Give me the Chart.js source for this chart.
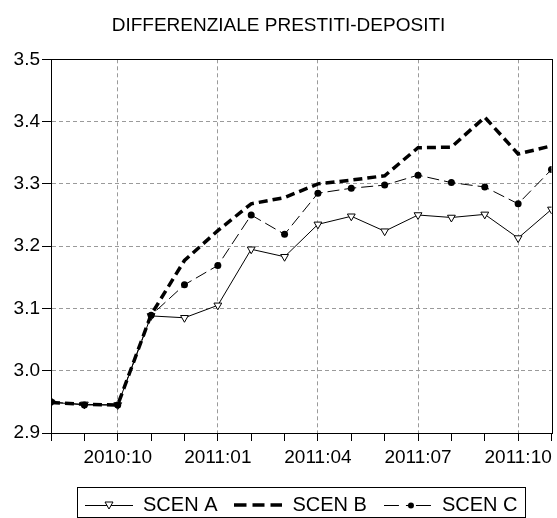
<!DOCTYPE html>
<html>
<head>
<meta charset="utf-8">
<script src="https://cdn.jsdelivr.net/npm/chart.js@4"></script>
<style>
  html, body { margin: 0; padding: 0; background: #fff; }
  #wrap { width: 557px; height: 518px; }
</style>
</head>
<body>
<div id="wrap"><canvas id="grafico"></canvas></div>
<script>
const meses = ["2010:08", "2010:09", "2010:10", "2010:11", "2010:12", "2011:01", "2011:02", "2011:03",
               "2011:04", "2011:05", "2011:06", "2011:07", "2011:08", "2011:09", "2011:10", "2011:11"];
const etiquetasX = ["2010:10", "2011:01", "2011:04", "2011:07", "2011:10"];
const scenA = [2.949, 2.946, 2.945, 3.088, 3.085, 3.105, 3.195, 3.183, 3.235, 3.248, 3.224, 3.250, 3.246, 3.251, 3.213, 3.259];
const scenB = [2.949, 2.946, 2.945, 3.090, 3.177, 3.225, 3.268, 3.278, 3.300, 3.306, 3.313, 3.358, 3.359, 3.407, 3.348, 3.361];
const scenC = [2.950, 2.945, 2.945, 3.089, 3.138, 3.169, 3.250, 3.219, 3.285, 3.293, 3.298, 3.314, 3.302, 3.295, 3.268, 3.323];
const yMin = 2.9, yMax = 3.5, yPaso = 0.1;

const fuente = "'Liberation Sans', Arial, sans-serif";

// muestras de la leyenda: linea + marcador
function muestraLeyenda(tipo) {
    const c = document.createElement("canvas");
    c.width = 48; c.height = 12;
    const g = c.getContext("2d");
    g.strokeStyle = "#000";
    g.beginPath();
    if (tipo === "A") {
        g.lineWidth = 1;
        g.moveTo(0, 6.5); g.lineTo(48, 6.5); g.stroke();
        g.beginPath();
        g.moveTo(20, 3); g.lineTo(28, 3); g.lineTo(24, 10); g.closePath();
        g.fillStyle = "#fff"; g.fill(); g.stroke();
    } else if (tipo === "B") {
        g.lineWidth = 3.5;
        g.setLineDash([12, 6]);
        g.moveTo(0, 6); g.lineTo(48, 6); g.stroke();
    } else {
        g.lineWidth = 1;
        g.setLineDash([15, 7, 7, 3]);
        g.moveTo(0, 6.5); g.lineTo(48, 6.5); g.stroke();
        g.beginPath();
        g.arc(27, 6.5, 3, 0, Math.PI * 2);
        g.fillStyle = "#000"; g.fill();
    }
    return c;
}

// centra la leyenda bajo el area del grafico y la baja un poco
const moverLeyenda = {
    id: "moverLeyenda",
    afterLayout(chart) {
        const { legend, chartArea: a } = chart;
        const dx = (a.left + a.right) / 2 - (legend.left + legend.right) / 2;
        const dy = 7;
        legend.left += dx; legend.right += dx;
        legend.top += dy; legend.bottom += dy;
    }
};

const marcoGrafico = {
    id: "marcoGrafico",
    afterDraw(chart) {
        const { ctx, chartArea: a, legend } = chart;
        ctx.save();
        ctx.strokeStyle = "#000";
        ctx.lineWidth = 1;
        ctx.strokeRect(Math.round(a.left) + 0.5, Math.round(a.top) + 0.5,
                       Math.round(a.right - a.left), Math.round(a.bottom - a.top));
        // recuadro de la leyenda
        const cajas = legend.legendHitBoxes;
        if (cajas && cajas.length) {
            const izq = Math.min(...cajas.map(b => b.left)) - 8;
            const der = Math.max(...cajas.map(b => b.left + b.width)) + 8;
            const arr = Math.min(...cajas.map(b => b.top)) - 8;
            const aba = Math.min(Math.max(...cajas.map(b => b.top + b.height)) + 8, chart.height - 1);
            ctx.strokeRect(Math.round(izq) + 0.5, Math.round(arr) + 0.5, Math.round(der - izq), Math.round(aba - arr));
        }
        ctx.restore();
    }
};

new Chart(document.getElementById("grafico"), {
    type: "line",
    data: {
        labels: meses,
        datasets: [
            {
                label: "SCEN A", data: scenA,
                borderColor: "#000", borderWidth: 1, tension: 0,
                pointStyle: "triangle", pointRotation: 180, pointRadius: 4.5,
                pointBackgroundColor: "#fff", pointBorderColor: "#000", pointBorderWidth: 1,
                clip: 0, order: 3
            },
            {
                label: "SCEN B", data: scenB,
                borderColor: "#000", borderWidth: 3.5, borderDash: [9, 5], tension: 0,
                pointRadius: 0, clip: 0, order: 1
            },
            {
                label: "SCEN C", data: scenC,
                borderColor: "#000", borderWidth: 1, borderDash: [12, 5], tension: 0,
                pointStyle: "circle", pointRadius: 3.5,
                pointBackgroundColor: "#000", pointBorderColor: "#000", pointBorderWidth: 0,
                clip: 0, order: 2
            }
        ]
    },
    options: {
        responsive: true,
        maintainAspectRatio: false,
        animation: false,
        devicePixelRatio: 1,
        layout: { padding: { left: 4, right: 4, top: 0, bottom: 0 } },
        plugins: {
            title: {
                display: true,
                text: "DIFFERENZIALE PRESTITI-DEPOSITI",
                color: "#000",
                font: { family: fuente, size: 19, weight: "normal", lineHeight: 1.2 },
                padding: { top: 14, bottom: 22.5 }
            },
            legend: {
                position: "bottom",
                labels: {
                    color: "#000",
                    font: { family: fuente, size: 20 },
                    usePointStyle: true,
                    pointStyleWidth: 48,
                    padding: 17,
                    generateLabels(chart) {
                        return chart.data.datasets.map((ds, i) => ({
                            text: ds.label,
                            pointStyle: muestraLeyenda(["A", "B", "C"][i]),
                            fontColor: "#000",
                            lineWidth: 0,
                            strokeStyle: "transparent",
                            fillStyle: "transparent",
                            hidden: false,
                            datasetIndex: i
                        }));
                    }
                }
            },
            tooltip: { enabled: false }
        },
        scales: {
            x: {
                grid: {
                    color: c => etiquetasX.includes(meses[c.index]) ? "#9a9a9a" : "transparent",
                    tickColor: "#000",
                    tickLength: 8,
                    lineWidth: 1
                },
                border: { color: "#000", dash: [4, 3] },
                ticks: {
                    autoSkip: false,
                    maxRotation: 0,
                    color: "#000",
                    padding: 5,
                    font: { family: fuente, size: 19 },
                    callback: (v, i) => etiquetasX.includes(meses[i]) ? meses[i] : ""
                },
                afterFit: s => { s.height = 38; }
            },
            y: {
                min: yMin, max: yMax,
                grid: { color: "#9a9a9a", tickColor: "#000", tickLength: 9 },
                border: { color: "#000", dash: [4, 3] },
                ticks: {
                    stepSize: yPaso,
                    color: "#000",
                    padding: 2,
                    font: { family: fuente, size: 19 },
                    callback: v => Number(v).toFixed(1)
                },
                afterFit: s => { s.width = 47; }
            }
        }
    },
    plugins: [moverLeyenda, marcoGrafico]
});
</script>
</body>
</html>
